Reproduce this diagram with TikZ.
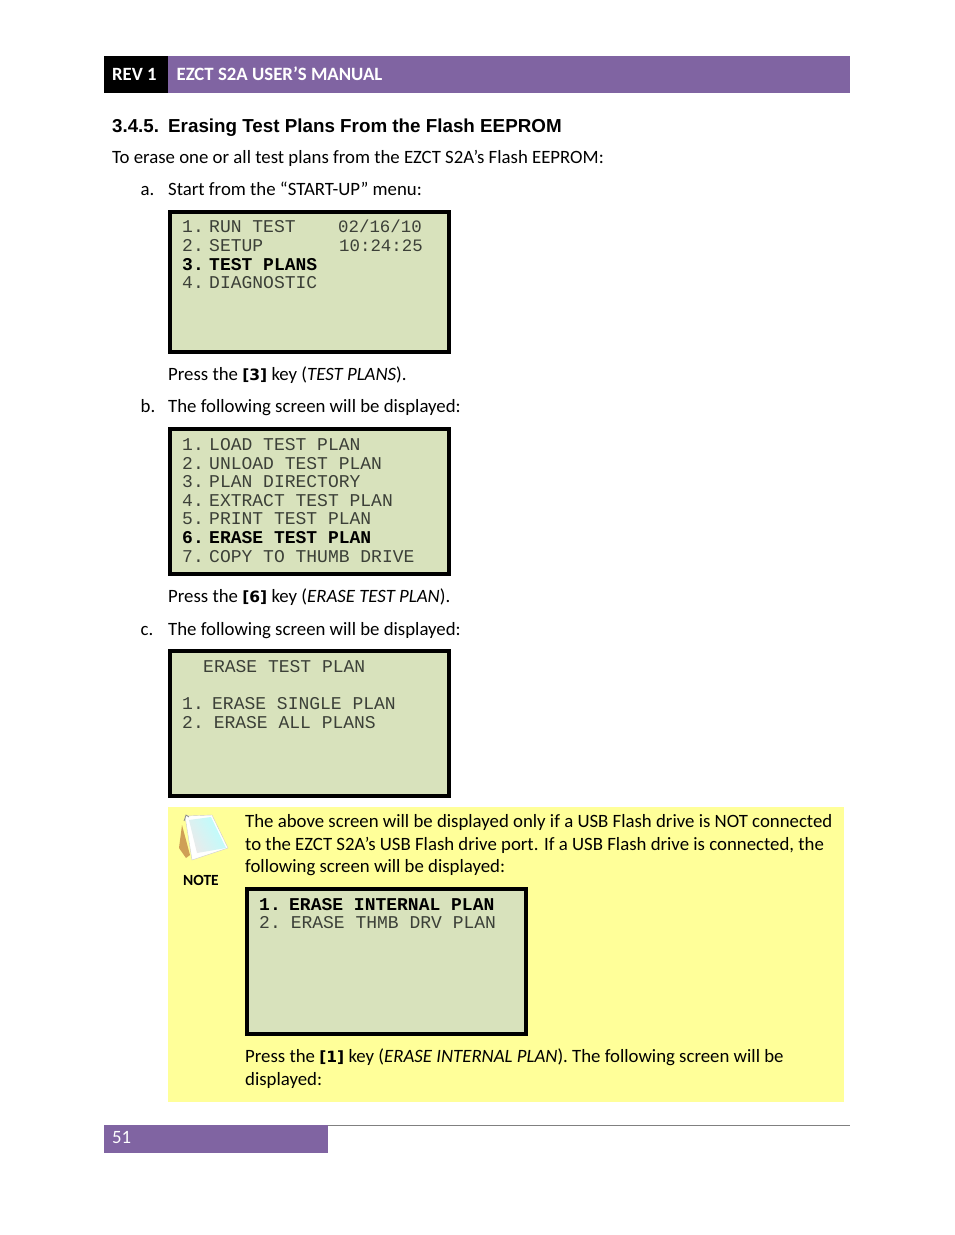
\documentclass[tikz,border=0pt]{standalone}
\usepackage{fontspec}
\setmainfont{Carlito}
\newfontfamily\headfont{Liberation Sans}
\newfontfamily\lcdfont{Liberation Mono}
\newfontfamily\keyfont{DejaVu Sans}
\definecolor{manualpurple}{HTML}{8064A2}
\definecolor{notefill}{HTML}{FFFF99}
\definecolor{lcdfill}{HTML}{D8E2BC}
\definecolor{lcdtext}{HTML}{3C4038}
\newcommand{\keyname}[1]{{\keyfont\bfseries\fontsize{15.5}{16}\selectfont[#1]}}
\tikzset{
  body/.style={anchor=base west,inner sep=0pt,font=\fontsize{18.8}{20}\selectfont},
  lcd/.style={draw=black,line width=4pt,fill=lcdfill},
  lcdline/.style={anchor=base west,inner sep=0pt,text=lcdtext,font=\frenchspacing\lcdfont\fontsize{18}{20}\selectfont},
  lcdbold/.style={lcdline,text=black,font=\frenchspacing\lcdfont\bfseries\fontsize{18}{20}\selectfont},
  lcddate/.style={lcdline,font=\lcdfont\fontsize{17.4}{20}\selectfont},
}
\begin{document}
\begin{tikzpicture}[x=1pt,y=-1pt]
  \useasboundingbox (0,0) rectangle (954,1235);
  % header
  \fill[black] (104,56) rectangle (168,93);
  \fill[manualpurple] (168,56) rectangle (850,93);
  \node[body,text=white,font=\fontsize{18.7}{20}\selectfont\bfseries] (rev) at (112,80) {REV 1};
  \node[body,text=white,font=\fontsize{18.8}{20}\selectfont\bfseries] (manual) at (176.5,80) {EZCT S2A USER’S MANUAL};
  \node[body,font=\headfont\bfseries\fontsize{18.7}{22}\selectfont] (sec) at (112,132) {3.4.5.};
  \node[body,font=\headfont\bfseries\fontsize{18.8}{22}\selectfont] (sectitle) at (168,132) {Erasing Test Plans From the Flash EEPROM};
  \node[body] (intro) at (112,163) {To erase one or all test plans from the EZCT S2A’s Flash EEPROM:};
  % step a
  \node[body] (a) at (140.5,195) {a.};
  \node[body] (atext) at (168,195) {Start from the “START-UP” menu:};
  \draw[lcd] (170,212) rectangle (449,352);
  \node[lcdline] (a1) at (182,232) {1.\hspace{-5.4pt} RUN TEST};
  \node[lcddate] (a1d) at (338,232) {02/16/10};
  \node[lcdline] (a2) at (182,251) {2.\hspace{-5.4pt} SETUP};
  \node[lcddate] (a2d) at (339,251) {10:24:25};
  \node[lcdbold] (a3) at (182,270) {3.\hspace{-5.4pt} TEST PLANS};
  \node[lcdline] (a4) at (182,288) {4.\hspace{-5.4pt} DIAGNOSTIC};
  \node[body] (apress) at (168,380) {Press the \keyname{3} key (\textit{TEST PLANS}).};
  % step b
  \node[body] (b) at (140.5,412) {b.};
  \node[body] (btext) at (168,412) {The following screen will be displayed:};
  \draw[lcd] (170,429) rectangle (449,574);
  \node[lcdline] (b1) at (182,450) {1.\hspace{-5.4pt} LOAD TEST PLAN};
  \node[lcdline] (b2) at (182,469) {2.\hspace{-5.4pt} UNLOAD TEST PLAN};
  \node[lcdline] (b3) at (182,487) {3.\hspace{-5.4pt} PLAN DIRECTORY};
  \node[lcdline] (b4) at (182,506) {4.\hspace{-5.4pt} EXTRACT TEST PLAN};
  \node[lcdline] (b5) at (182,524) {5.\hspace{-5.4pt} PRINT TEST PLAN};
  \node[lcdbold] (b6) at (182,543) {6.\hspace{-5.4pt} ERASE TEST PLAN};
  \node[lcdline] (b7) at (182,562) {7.\hspace{-5.4pt} COPY TO THUMB DRIVE};
  \node[body] (bpress) at (168,602) {Press the \keyname{6} key (\textit{ERASE TEST PLAN}).};
  % step c
  \node[body] (c) at (140.5,635) {c.};
  \node[body] (ctext) at (168,635) {The following screen will be displayed:};
  \draw[lcd] (170,651) rectangle (449,796);
  \node[lcdline] (c0) at (203,672) {ERASE TEST PLAN};
  \node[lcdline] (c1) at (182,709) {1.\hspace{-2.4pt} ERASE SINGLE PLAN};
  \node[lcdline] (c2) at (182,728) {2.\hspace{-0.8pt} ERASE ALL PLANS};
  % note
  \fill[notefill] (168,807) rectangle (844,1102);
  \fill[brown!75!notefill] (182,825) -- (179,848) -- (186,858) -- (190,855) -- cycle;
  \fill[white,draw=black!20,line width=0.4pt] (185,816) -- (212,815) -- (228,848) -- (192,860) -- cycle;
  \shade[left color=black!8!white,right color=cyan!28!white,shading angle=120] (189,820) -- (211,817) -- (226,848) -- (197,853) -- cycle;
  \draw[black!45,line width=0.8pt] (184,821) -- (186,815) -- (189,817);
  \node[body,font=\fontsize{15.5}{17}\selectfont\bfseries] (note) at (183,885) {NOTE};
  \node[body] (n1) at (245,827) {The above screen will be displayed only if a USB Flash drive is NOT connected};
  \node[body] (n2) at (245,850) {to the EZCT S2A’s USB Flash drive port. If a USB Flash drive is connected, the};
  \node[body] (n3) at (245,872) {following screen will be displayed:};
  \draw[lcd] (247,889) rectangle (526,1034);
  \node[lcdbold] (d1) at (259,910) {1.\hspace{-2.4pt} ERASE INTERNAL PLAN};
  \node[lcdline] (d2) at (259,928) {2.\hspace{-0.8pt} ERASE THMB DRV PLAN};
  \node[body] (n4) at (245,1062) {Press the \keyname{1} key (\textit{ERASE INTERNAL PLAN}). The following screen will be};
  \node[body] (n5) at (245,1085) {displayed:};
  % footer
  \draw[black!50,line width=0.7pt] (328,1125.5) -- (850,1125.5);
  \fill[manualpurple] (104,1125) rectangle (328,1153);
  \node[body,text=white] (page) at (112,1143) {51};
\end{tikzpicture}
\end{document}
